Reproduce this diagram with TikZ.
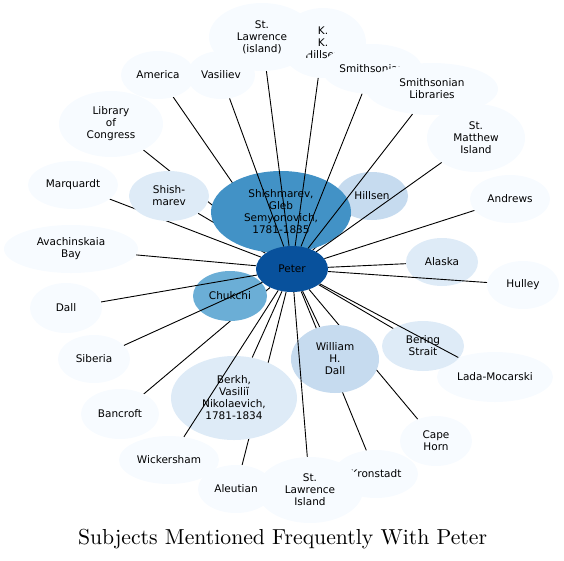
\documentclass[tikz,border=0pt]{standalone}
\usepackage{fontspec}
\newfontfamily\dejavu{DejaVu Sans}
\usetikzlibrary{shapes.geometric,backgrounds}
\definecolor{bz}{HTML}{F7FBFF}
\definecolor{ba}{HTML}{DEEBF7}
\definecolor{bb}{HTML}{C6DBEF}
\definecolor{bd}{HTML}{6BAED6}
\definecolor{be}{HTML}{4292C6}
\definecolor{bg}{HTML}{08519C}
\begin{document}
\begin{tikzpicture}[x=1pt,y=-1pt,
  bub/.style={ellipse, draw=none, inner sep=0pt, align=center, text=black,
    font=\dejavu\fontsize{10.5}{12}\selectfont},
  link/.style={draw=black, line width=0.9pt}]
\useasboundingbox (0,0) rectangle (564,560);
% nodes, in drawing order
\node[bub, fill=bz, minimum width=86pt, minimum height=70pt] (kk) at (323,43) {K.\\K.\\Hillsen};
\node[bub, fill=bz, minimum width=106pt, minimum height=68pt] (stli) at (262,37) {St.\\Lawrence\\(island)};
\node[bub, fill=bz, minimum width=100pt, minimum height=50pt] (smi) at (372,69) {Smithsonian};
\node[bub, fill=bz, minimum width=132pt, minimum height=52pt] (sml) at (432,89) {Smithsonian\\Libraries};
\node[bub, fill=bz, minimum width=68pt, minimum height=48pt] (vas) at (221,75) {Vasiliev};
\node[bub, fill=bz, minimum width=74pt, minimum height=48pt] (ame) at (158,75) {America};
\node[bub, fill=bz, minimum width=104pt, minimum height=66pt] (loc) at (111,124) {Library\\of\\Congress};
\node[bub, fill=bz, minimum width=98pt, minimum height=68pt] (stm) at (476,138) {St.\\Matthew\\Island};
\node[bub, fill=bz, minimum width=80pt, minimum height=48pt] (andr) at (510,199) {Andrews};
\node[bub, fill=bz, minimum width=72pt, minimum height=48pt] (hul) at (523,285) {Hulley};
\node[bub, fill=bz, minimum width=116pt, minimum height=50pt] (lada) at (495,377) {Lada-Mocarski};
\node[bub, fill=bz, minimum width=72pt, minimum height=50pt] (cape) at (436,441) {Cape\\Horn};
\node[bub, fill=bz, minimum width=84pt, minimum height=48pt] (kro) at (376,474) {Kronstadt};
\node[bub, fill=bz, minimum width=76pt, minimum height=48pt] (ale) at (236,489) {Aleutian};
\node[bub, fill=bz, minimum width=106pt, minimum height=66pt] (sli) at (310,490) {St.\\Lawrence\\Island};
\node[bub, fill=bz, minimum width=100pt, minimum height=48pt] (wic) at (169,460) {Wickersham};
\node[bub, fill=bz, minimum width=78pt, minimum height=50pt] (ban) at (120,414) {Bancroft};
\node[bub, fill=bz, minimum width=72pt, minimum height=48pt] (sib) at (94,359) {Siberia};
\node[bub, fill=bz, minimum width=72pt, minimum height=50pt] (dal) at (66,308) {Dall};
\node[bub, fill=bz, minimum width=134pt, minimum height=48pt] (ava) at (71,249) {Avachinskaia\\Bay};
\node[bub, fill=bz, minimum width=90pt, minimum height=48pt] (mar) at (73,185) {Marquardt};
\node[bub, fill=ba, minimum width=80pt, minimum height=50pt] (shm) at (169,196) {Shish-\\marev};
\node[bub, fill=ba, minimum width=126pt, minimum height=84pt] (berkh) at (234,398) {Berkh,\\Vasiliĭ\\Nikolaevich,\\1781-1834};
\node[bub, fill=bb, minimum width=88pt, minimum height=68pt] (whd) at (335,359) {William\\H.\\Dall};
\node[bub, fill=ba, minimum width=82pt, minimum height=50pt] (ber) at (423,346) {Bering\\Strait};
\node[bub, fill=ba, minimum width=72pt, minimum height=48pt] (ala) at (442,262) {Alaska};
\node[bub, fill=bb, minimum width=72pt, minimum height=48pt] (hil) at (372,196) {Hillsen};
\node[bub, fill=be, minimum width=140pt, minimum height=82pt] (shi) at (281,212) {Shishmarev,\\Gleb\\Semyonovich,\\1781-1835};
\node[bub, fill=bd, minimum width=74pt, minimum height=50pt] (chu) at (230,296) {Chukchi};
\node[bub, fill=bg, minimum width=72pt, minimum height=46pt] (pet) at (292,269) {Peter};
% edges hidden beneath nodes
\begin{pgfonlayer}{background}
\foreach \t in {shi,hil,ame,loc,mar,shm,ava,chu,ban,ale,berkh,whd,cape,kro,ber,ala,andr}
  \draw[link] (pet) -- (\t);
\end{pgfonlayer}
% edges drawn over nodes
\foreach \t in {vas,stli,kk,smi,sml,stm,hul,lada,sli,wic,dal,sib}
  \draw[link] (pet) -- (\t);
% title
\node[anchor=base, inner sep=0pt] (title) at (282.5,544) {\scalebox{2.17}{\fontsize{10}{12}\selectfont Subjects Mentioned Frequently With Peter}};
\end{tikzpicture}
\end{document}
